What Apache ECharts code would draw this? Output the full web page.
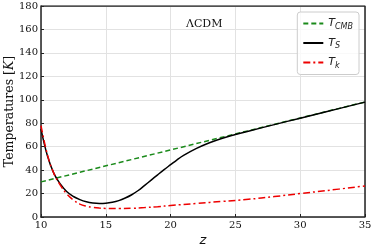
<!DOCTYPE html>
<html><head><meta charset="utf-8">
<script src="https://cdn.jsdelivr.net/npm/echarts@6/dist/echarts.min.js"></script>
<style>html,body{margin:0;padding:0;background:#fff}#c{width:374px;height:248px}</style>
</head><body><div id="c"></div>
<script>
const zCMB = [10, 35];
const tCMB = [29.975, 98.1];
const zS = [10, 10.5, 11, 11.5, 12, 12.5, 13, 13.5, 14, 14.5, 15, 15.5, 16, 16.5, 17, 17.5, 18, 18.5, 19, 19.5, 20, 20.5, 21, 22, 23, 24, 25, 26, 28, 30, 32, 35];
const tS = [75, 52, 37, 28, 21.5, 17.5, 14.8, 13, 12, 11.6, 11.8, 12.6, 14, 16.2, 19, 22.6, 27, 31.5, 36, 40.4, 44.6, 48.8, 52.5, 58.5, 63.3, 67.2, 70.3, 73.2, 78.8, 84.3, 89.8, 98];
const zK = [10, 10.5, 11, 11.5, 12, 12.5, 13, 13.5, 14, 14.5, 15, 15.5, 16, 17, 18, 19, 20, 22, 24, 26, 28, 30, 32, 35];
const tK = [78, 53, 37, 27, 19.5, 14.5, 11, 9.2, 8.2, 7.6, 7.3, 7.2, 7.2, 7.4, 8, 8.8, 9.8, 11.6, 13.3, 15.1, 17.4, 20, 22.5, 26.5];
const xTicks = [10, 15, 20, 25, 30, 35];
const yTicks = [0, 20, 40, 60, 80, 100, 120, 140, 160, 180];

const pair = (xs, ys) => xs.map((x, i) => [x, ys[i]]);
const chart = echarts.init(document.getElementById('c'), null, {renderer: 'canvas'});
const serif = 'DejaVu Serif';
chart.setOption({
  animation: false,
  grid: {left: 41, right: 9, top: 6, bottom: 31, containLabel: false, outerBoundsMode: 'none'},
  title: {text: 'ΛCDM', left: 181, top: 14, textStyle: {fontFamily: serif, fontSize: 11, fontWeight: 'normal', color: '#111'}},
  legend: {
    orient: 'vertical', right: 15, top: 12, itemWidth: 20, itemHeight: 8, itemGap: 7,
    padding: [6, 6, 5, 5], borderColor: '#ccc', borderWidth: 1, borderRadius: 3,
    backgroundColor: 'rgba(255,255,255,0.8)',
    itemStyle: {opacity: 0},
    data: ['cmb', 's', 'k'],
    formatter: n => n === 'cmb' ? '{i|T}{sub|CMB}' : (n === 's' ? '{i|T}{sub|S}' : '{i|T}{sub|k}'),
    textStyle: {rich: {
      i: {fontFamily: 'DejaVu Sans', fontStyle: 'italic', fontSize: 11, color: '#222'},
      sub: {fontFamily: 'DejaVu Sans', fontStyle: 'italic', fontSize: 8, color: '#222', verticalAlign: 'bottom', padding: [6, 0, 0, 0]}
    }}
  },
  xAxis: {
    type: 'value', min: 10, max: 35, interval: 5,
    name: 'z', nameLocation: 'middle', nameGap: 17, nameMoveOverlap: false,
    nameTextStyle: {fontFamily: 'DejaVu Sans', fontStyle: 'italic', fontSize: 13, color: '#111'},
    axisLine: {show: true, onZero: false, lineStyle: {color: '#222', width: 1.5}},
    axisTick: {inside: true, length: 3, lineStyle: {color: '#222'}},
    axisLabel: {fontFamily: serif, fontSize: 10, color: '#111', margin: 3, formatter: v => xTicks.includes(v) ? String(v) : ''},
    splitLine: {show: true, lineStyle: {color: '#e2e2e2', width: 1}}
  },
  yAxis: {
    type: 'value', min: 0, max: 180, interval: 20,
    name: 'Temperatures [{k|K}]', nameLocation: 'middle', nameGap: 25, nameMoveOverlap: false,
    nameTextStyle: {fontFamily: serif, fontSize: 12.5, color: '#111', rich: {k: {fontFamily: serif, fontStyle: 'italic', fontSize: 12.5, color: '#111'}}},
    axisLine: {show: true, lineStyle: {color: '#222', width: 1.5}},
    axisTick: {inside: true, length: 3, lineStyle: {color: '#222'}},
    axisLabel: {fontFamily: serif, fontSize: 10, color: '#111', margin: 3, formatter: v => yTicks.includes(v) ? String(v) : ''},
    splitLine: {show: true, lineStyle: {color: '#e2e2e2', width: 1}}
  },
  series: [
    {name: 'cmb', type: 'line', data: pair(zCMB, tCMB), symbol: 'none', z: 2,
     lineStyle: {color: '#1a8a1a', width: 1.5, type: [5, 3]}, itemStyle: {color: '#1a8a1a'}},
    {name: 's', type: 'line', data: pair(zS, tS), symbol: 'none', smooth: 0.4, z: 3,
     lineStyle: {color: '#000', width: 1.5}, itemStyle: {color: '#000'}},
    {name: 'k', type: 'line', data: pair(zK, tK), symbol: 'none', smooth: 0.4, z: 4,
     lineStyle: {color: '#ee0000', width: 1.5, type: [7, 3, 2, 3]}, itemStyle: {color: '#ee0000'}},
    {type: 'line', data: [[10, 180], [35, 180], [35, 0]], symbol: 'none', silent: true,
     lineStyle: {color: '#222', width: 1.5}, z: 1, legendHoverLink: false}
  ]
});
</script></body></html>
